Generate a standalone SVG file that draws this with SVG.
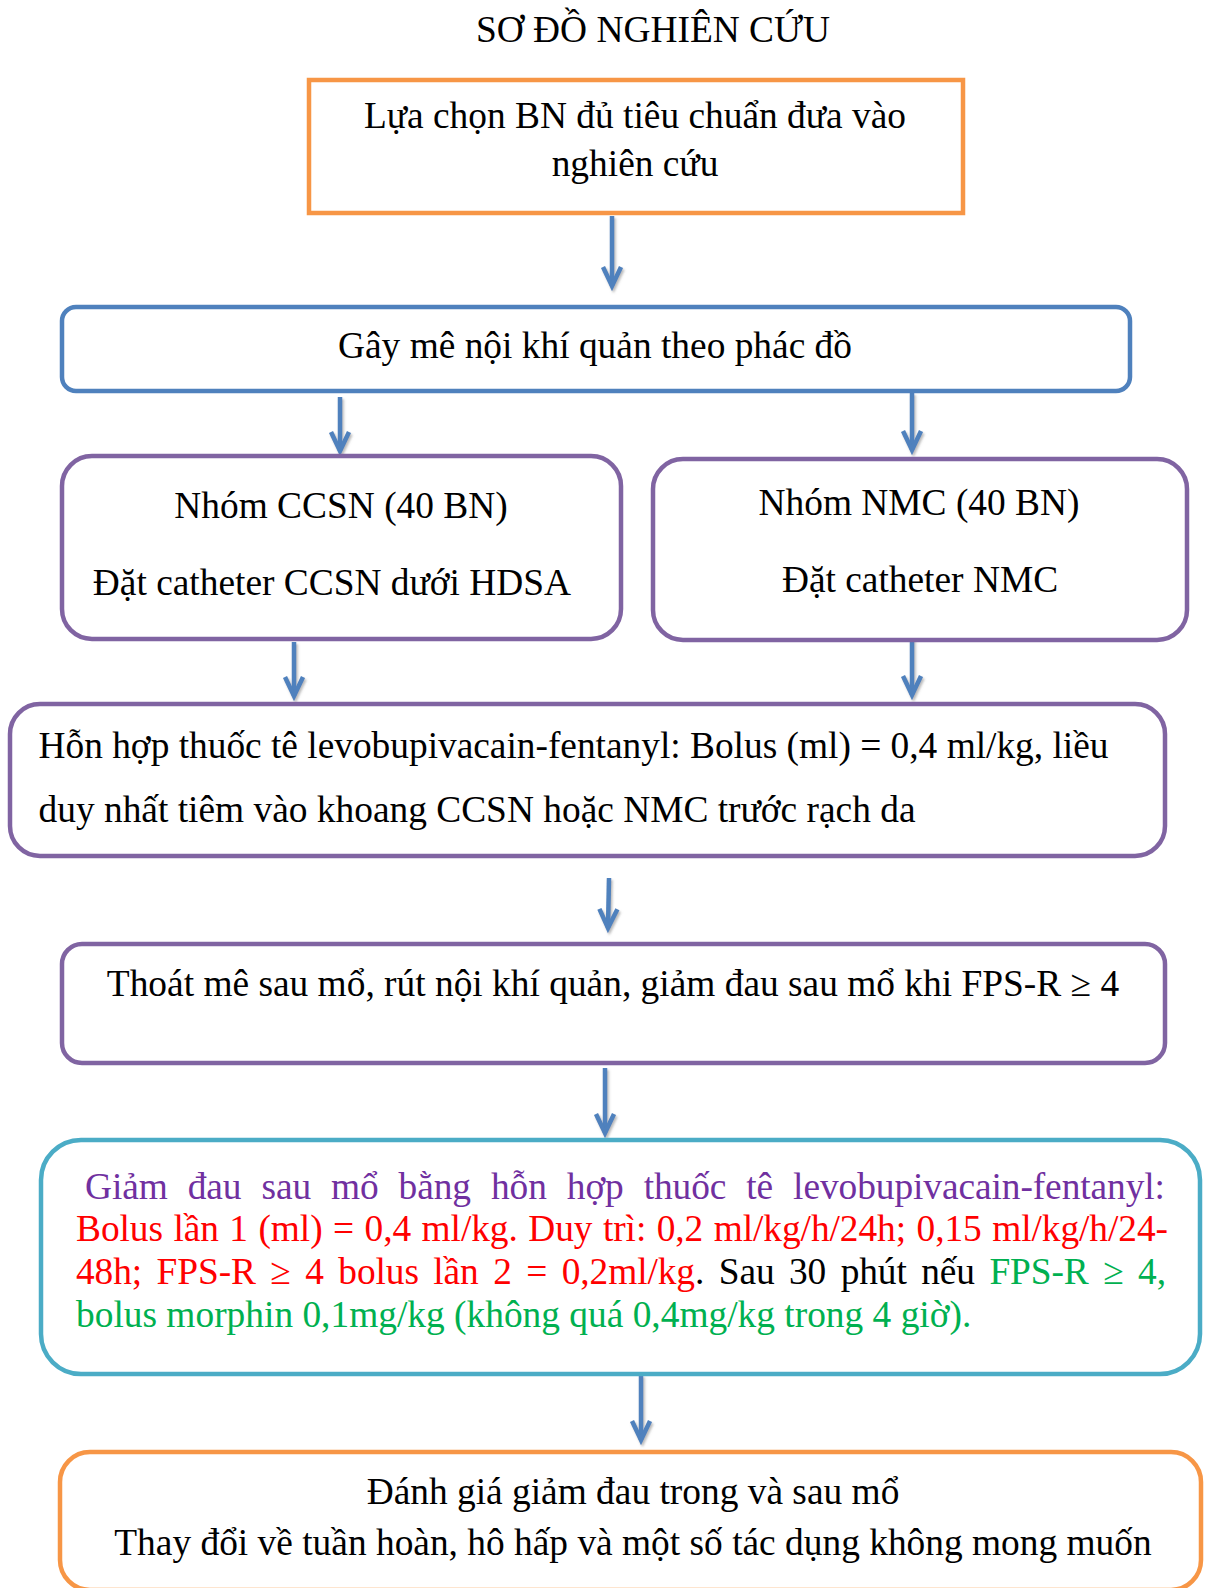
<svg xmlns="http://www.w3.org/2000/svg" width="1205" height="1588" viewBox="0 0 1205 1588">
<style>
  text { font-family: "Liberation Serif", "Times New Roman", serif; font-size: 37.4px; fill: #000; }
  .box { fill: #fff; stroke-width: 4.5; }
  .orange { stroke: #F79646; }
  .blue { stroke: #4F81BD; }
  .purple { stroke: #8064A2; }
  .cyan { stroke: #4BACC6; }
  .c { text-anchor: middle; }
  .arrow { stroke: #4F81BD; stroke-width: 4.5; fill: none; marker-end: url(#ah); }
  .tp { fill: #7030A0; }
  .tr { fill: #FF0000; }
  .tg { fill: #00B050; }
  .tk { fill: #000; }
</style>
<defs>
  <marker id="ah" markerUnits="userSpaceOnUse" viewBox="-24 -13 32 26" refX="0" refY="0" markerWidth="32" markerHeight="26" orient="auto">
    <path d="M-19,-9 L0,0 L-19,9" fill="none" stroke="#4F81BD" stroke-width="4.5" stroke-linejoin="miter"/>
  </marker>
  <filter id="sh" x="-50%" y="-10%" width="200%" height="130%">
    <feDropShadow dx="1.5" dy="2" stdDeviation="1" flood-color="#808080" flood-opacity="0.55"/>
  </filter>
</defs>
<rect width="1205" height="1588" fill="#fff"/>

<text id="title" x="653" y="42" class="c">SƠ ĐỒ NGHIÊN CỨU</text>

<g id="connectors" filter="url(#sh)">
  <line class="arrow" x1="612" y1="216" x2="612" y2="286"/>
  <line class="arrow" x1="340" y1="397" x2="340" y2="451"/>
  <line class="arrow" x1="912" y1="393" x2="912" y2="450"/>
  <line class="arrow" x1="294" y1="642" x2="294" y2="696"/>
  <line class="arrow" x1="912" y1="638" x2="912" y2="695"/>
  <line class="arrow" x1="609" y1="878" x2="608" y2="928"/>
  <line class="arrow" x1="605" y1="1068" x2="605" y2="1133"/>
  <line class="arrow" x1="641" y1="1375" x2="641" y2="1440"/>
</g>

<g id="n1">
  <rect class="box orange" x="309" y="80" width="654" height="133"/>
  <text x="635" y="128" class="c">Lựa chọn BN đủ tiêu chuẩn đưa vào</text>
  <text x="635" y="176" class="c">nghiên cứu</text>
</g>

<g id="n2">
  <rect class="box blue" x="62" y="307" width="1068" height="84" rx="14"/>
  <text x="595" y="358" class="c">Gây mê nội khí quản theo phác đồ</text>
</g>

<g id="n3a">
  <rect class="box purple" x="62" y="456" width="559" height="183" rx="30"/>
  <text x="341" y="518" class="c">Nhóm CCSN (40 BN)</text>
  <text x="332" y="595" class="c">Đặt catheter CCSN dưới HDSA</text>
</g>

<g id="n3b">
  <rect class="box purple" x="653" y="459" width="534" height="181" rx="30"/>
  <text x="919" y="515" class="c">Nhóm NMC (40 BN)</text>
  <text x="920" y="592" class="c">Đặt catheter NMC</text>
</g>

<g id="n4">
  <rect class="box purple" x="10" y="704" width="1155" height="152" rx="30"/>
  <text x="38.5" y="758" textLength="1070" lengthAdjust="spacing">Hỗn hợp thuốc tê levobupivacain-fentanyl: Bolus (ml) = 0,4 ml/kg, liều</text>
  <text x="38.5" y="822">duy nhất tiêm vào khoang CCSN hoặc NMC trước rạch da</text>
</g>

<g id="n5">
  <rect class="box purple" x="62" y="944" width="1103" height="119" rx="20"/>
  <text x="613" y="996" class="c">Thoát mê sau mổ, rút nội khí quản, giảm đau sau mổ khi FPS-R ≥ 4</text>
</g>

<g id="n6">
  <rect class="box cyan" x="41" y="1140" width="1159" height="234" rx="40"/>
  <text class="tp" x="85" y="1199" textLength="1080" lengthAdjust="spacing" word-spacing="10.7">Giảm đau sau mổ bằng hỗn hợp thuốc tê levobupivacain-fentanyl:</text>
  <text class="tr" x="76" y="1241" textLength="1092" lengthAdjust="spacing" word-spacing="1.2">Bolus lần 1 (ml) = 0,4 ml/kg. Duy trì: 0,2 ml/kg/h/24h; 0,15 ml/kg/h/24-</text>
  <text x="76" y="1284" textLength="1090" lengthAdjust="spacing" word-spacing="5.2"><tspan class="tr">48h; FPS-R ≥ 4 bolus lần 2 = 0,2ml/kg</tspan><tspan class="tk">. Sau 30 phút nếu </tspan><tspan class="tg">FPS-R ≥ 4,</tspan></text>
  <text class="tg" x="76" y="1327">bolus morphin 0,1mg/kg (không quá 0,4mg/kg trong 4 giờ).</text>
</g>

<g id="n7">
  <rect class="box orange" x="60" y="1452" width="1141" height="138" rx="30"/>
  <text x="633" y="1504" class="c">Đánh giá giảm đau trong và sau mổ</text>
  <text x="633" y="1555" class="c">Thay đổi về tuần hoàn, hô hấp và một số tác dụng không mong muốn</text>
</g>
</svg>
